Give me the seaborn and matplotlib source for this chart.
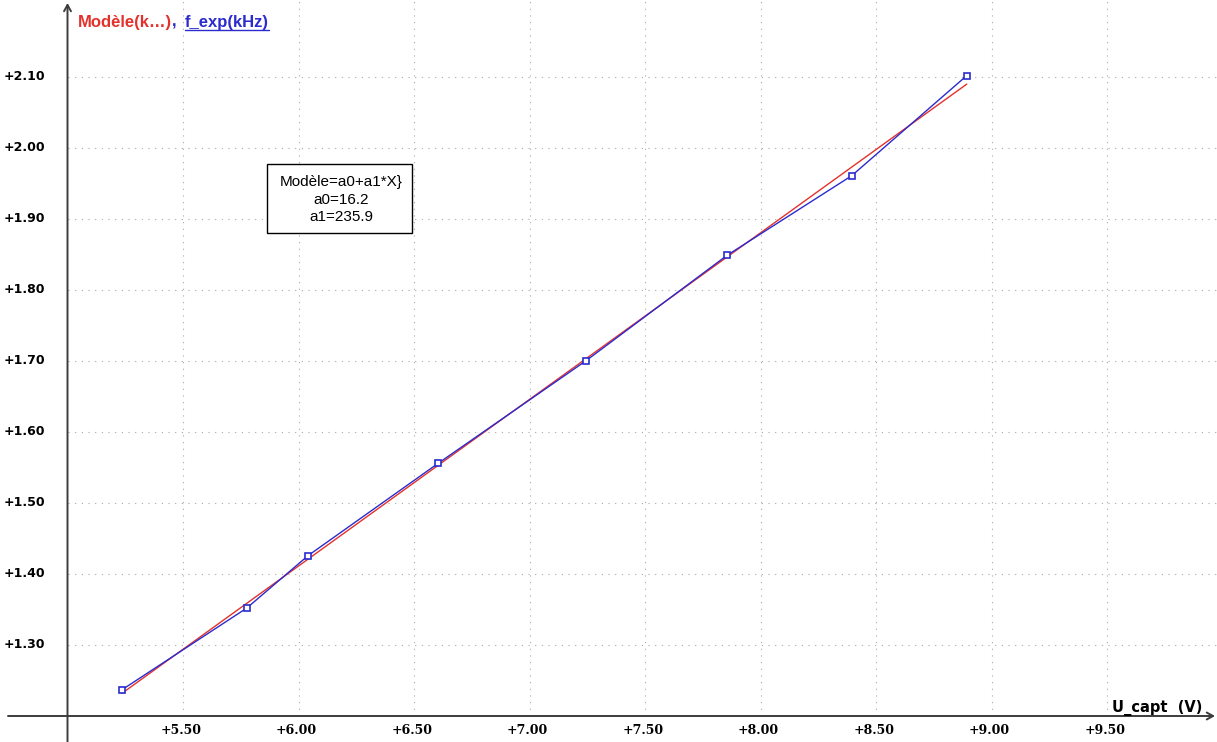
"""Linear model fit of f_exp versus U_capt (Regressi-like look)."""
import matplotlib
matplotlib.use("Agg")
import matplotlib.pyplot as plt
import seaborn as sns
import numpy as np
from matplotlib.patches import Rectangle
from matplotlib.lines import Line2D

sns.set_style("white")
plt.rcParams['font.family'] = ['DejaVu Sans']

# data
u_capt = [5.236, 5.776, 6.042, 6.605, 7.243, 7.856, 8.395, 8.893]
f_exp = [1.237, 1.352, 1.426, 1.556, 1.700, 1.849, 1.961, 2.102]
model_u = [5.236, 8.893]
model_f = [1.232, 2.090]

x_ticks = [5.50, 6.00, 6.50, 7.00, 7.50, 8.00, 8.50, 9.00, 9.50]
y_ticks = [1.30, 1.40, 1.50, 1.60, 1.70, 1.80, 1.90, 2.00, 2.10]
box_lines = ["Modèle=a0+a1*X}", "a0=16.2", "a1=235.9"]

RED = "#e3322c"
BLUE = "#2b2bcf"
AXIS = "#3c3c3c"
GRID = "#a8a8a8"

W, H = 1217, 742
X0, Y0 = 5.0, 1.20          # where the two axes cross
PX_X, PX_Y = 231.0, 710.0   # pixels per unit
ORIG_PX = (67.5, 716.0)     # pixel position of the crossing

xmin = X0 - ORIG_PX[0] / PX_X
xmax = xmin + W / PX_X
ymin = Y0 - (H - ORIG_PX[1]) / PX_Y
ymax = ymin + H / PX_Y


def px_x(p):
    return xmin + p / PX_X


def px_y(p):
    return ymin + (H - p) / PX_Y


fig = plt.figure(figsize=(W / 100, H / 100), dpi=100)
ax = fig.add_axes([0, 0, 1, 1])
ax.set_xlim(xmin, xmax)
ax.set_ylim(ymin, ymax)
ax.set_axis_off()

# dotted grid, only in the positive quadrant
dots = (0, (1, 5))
ax.hlines(y_ticks, X0, xmax, colors=GRID, linestyles=dots, lw=0.8, zorder=1)
ax.vlines(x_ticks, Y0, ymax, colors=GRID, linestyles=dots, lw=0.8, zorder=1)

# axes with arrows
arrow = dict(arrowstyle='->,head_length=0.45,head_width=0.25', lw=1.4, color=AXIS,
             shrinkA=0, shrinkB=0)
ax.annotate('', xy=(px_x(1215), Y0), xytext=(px_x(8), Y0), arrowprops=arrow, zorder=2)
ax.annotate('', xy=(X0, px_y(3)), xytext=(X0, ymin), arrowprops=arrow, zorder=2)

# model and experimental curves
sns.lineplot(x=model_u, y=model_f, ax=ax, color=RED, lw=1.0, sort=False, zorder=3)
sns.lineplot(x=u_capt, y=f_exp, ax=ax, color=BLUE, lw=1.0, sort=False, zorder=4,
             marker='s', markersize=5, markerfacecolor='white',
             markeredgecolor=BLUE, markeredgewidth=1.2)

# tick labels
for v in y_ticks:
    ax.text(px_x(45), v, f"+{v:.2f}", ha='right', va='center',
            fontsize=9, fontweight='bold', color='black')
for v in x_ticks:
    ax.text(v - 2 / PX_X, px_y(731), f"+{v:.2f}", ha='center', va='center',
            fontsize=9, fontweight='bold', color='black', family=['DejaVu Serif'])

ax.text(px_x(1202), px_y(712), "U_capt  (V)", ha='right', va='baseline',
        fontsize=10.5, fontweight='bold', color='black')

# legend at the top
t1 = ax.text(px_x(78), px_y(27), "Modèle(k…)", ha='left', va='baseline',
             fontsize=12, fontweight='bold', color=RED, family=['Liberation Sans'])
ax.text(px_x(172), px_y(27), ",", ha='left', va='baseline',
        fontsize=12, fontweight='bold', color=BLUE, family=['Liberation Sans'])
t2 = ax.text(px_x(185), px_y(27), "f_exp(kHz)", ha='left', va='baseline',
             fontsize=12, fontweight='bold', color=BLUE, family=['Liberation Sans'])
fig.canvas.draw()
bb = t2.get_window_extent()
fig.add_artist(Line2D([bb.x0, bb.x1], [H - 29.5, H - 29.5], transform=None,
                      color=BLUE, lw=1.0))

# parameter box
ax.add_patch(Rectangle((px_x(266.5), px_y(233)), 146 / PX_X, 68.5 / PX_Y,
                       facecolor='white', edgecolor='black', lw=1.0, zorder=5))
for line, yp in zip(box_lines, [182, 200, 217]):
    ax.text(px_x(341), px_y(yp), line, ha='center', va='center', fontsize=11,
            color='black', family=['Liberation Sans'], zorder=6)

plt.savefig("out.png", dpi=100)
plt.close()
